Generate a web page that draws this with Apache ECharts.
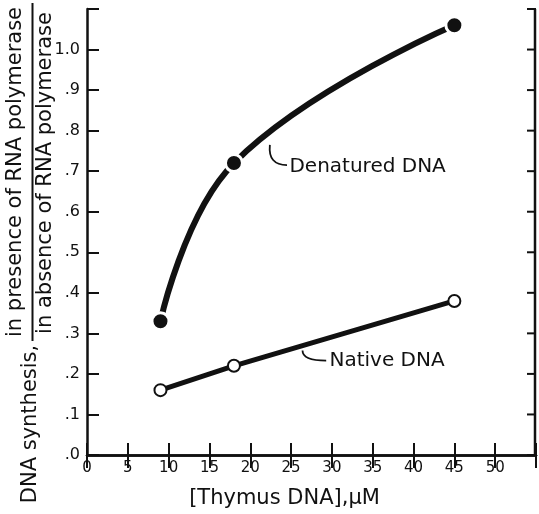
<!DOCTYPE html>
<html>
<head>
<meta charset="utf-8">
<script src="https://cdn.jsdelivr.net/npm/echarts@6/dist/echarts.min.js"></script>
<style>
  html, body { margin: 0; padding: 0; background: #fff; }
  #chart { width: 539px; height: 514px; }
</style>
</head>
<body>
<div id="chart"></div>
<script>
// thymus DNA concentration (uM)
const concentration = [9, 18, 45]
const denatured = [0.33, 0.72, 1.06]
const native = [0.16, 0.22, 0.38]

const xTickLabels = ['0', '5', '10', '15', '20', '25', '30', '35', '40', '45', '50', '']
const yTickLabels = ['.0', '.1', '.2', '.3', '.4', '.5', '.6', '.7', '.8', '.9', '1.0', '']
const yTicks = [0, 0.1, 0.2, 0.3, 0.4, 0.5, 0.6, 0.7, 0.8, 0.9, 1.0, 1.1]

const FONT = '"DejaVu Sans", sans-serif'
const INK = '#111'

const chart = echarts.init(document.getElementById('chart'))

const frameLine = { show: true, lineStyle: { color: INK, width: 2.5 } }

const option = {
  animation: false,
  backgroundColor: '#fff',
  grid: { left: 87, right: 1, top: 9, bottom: 59, containLabel: false },
  xAxis: [
    {
      type: 'value', min: 0, max: 55, interval: 5,
      axisLine: frameLine,
      axisTick: { inside: true, length: 12, lineStyle: { color: INK, width: 2 } },
      splitLine: { show: false },
      axisLabel: {
        color: INK, fontFamily: FONT, fontSize: 15, margin: 6,
        formatter: v => xTickLabels[Math.round(v / 5)]
      },
      name: '[Thymus DNA],\u03bcM',
      nameLocation: 'middle',
      nameGap: 33,
      nameTextStyle: { color: INK, fontFamily: FONT, fontSize: 21, padding: [0, 54, 0, 0] }
    },
    {
      type: 'value', min: 0, max: 55, interval: 5, position: 'top',
      axisLine: frameLine,
      axisTick: { inside: true, length: 13, lineStyle: { color: INK, width: 2 } },
      axisLabel: { show: false }, splitLine: { show: false }
    }
  ],
  yAxis: [
    {
      type: 'value', min: 0, max: 1.1, interval: 0.1,
      axisLine: frameLine,
      axisTick: { inside: true, length: 12, lineStyle: { color: INK, width: 2 } },
      splitLine: { show: false },
      axisLabel: {
        color: INK, fontFamily: FONT, fontSize: 16, margin: 7,
        formatter: v => yTickLabels[Math.round(v * 10)]
      }
    },
    {
      // kept only as a placeholder; the right edge is drawn below
      type: 'value', min: 0, max: 1.1, interval: 0.1, position: 'right',
      axisLine: { show: false },
      axisTick: { show: false },
      axisLabel: { show: false }, splitLine: { show: false }
    }
  ],
  series: [
    {
      name: 'Denatured DNA',
      type: 'line',
      smooth: 0.42,
      data: concentration.map((x, i) => [x, denatured[i]]),
      lineStyle: { color: INK, width: 6 },
      symbol: 'circle',
      symbolSize: 17,
      itemStyle: { color: INK, borderColor: '#fff', borderWidth: 3 },
      z: 3
    },
    {
      name: 'Native DNA',
      type: 'line',
      data: concentration.map((x, i) => [x, native[i]]),
      lineStyle: { color: INK, width: 5 },
      symbol: 'circle',
      symbolSize: 12,
      showAllSymbol: true,
      itemStyle: { color: '#fff', borderColor: INK, borderWidth: 2 },
      z: 3
    }
  ]
}

chart.setOption(option)

// labels with leader lines, anchored in data coordinates
const toPx = p => chart.convertToPixel({ gridIndex: 0 }, p)

function leader(from, to, bend) {
  const a = toPx(from), b = toPx(to)
  const c = [a[0] + bend[0], b[1] + bend[1]]
  return {
    type: 'bezierCurve',
    shape: { x1: a[0], y1: a[1], x2: b[0], y2: b[1], cpx1: c[0], cpy1: c[1] },
    style: { stroke: INK, lineWidth: 1.8, fill: null }
  }
}

function label(text, at) {
  const p = toPx(at)
  return {
    type: 'text', x: p[0], y: p[1],
    style: { text, fill: INK, font: '20px ' + FONT, align: 'left', verticalAlign: 'middle' }
  }
}

// right frame edge with its short inward ticks
const rightTop = toPx([55, 1.1]), rightBottom = toPx([55, 0])
const rightFrame = [{
  type: 'line',
  shape: { x1: rightTop[0] - 1, y1: rightTop[1], x2: rightBottom[0] - 1, y2: rightBottom[1] },
  style: { stroke: INK, lineWidth: 2.5 }
}].concat(yTicks.map(v => {
  const p = toPx([55, v])
  return {
    type: 'line',
    shape: { x1: p[0] - 9, y1: p[1], x2: p[0], y2: p[1] },
    style: { stroke: INK, lineWidth: 2 }
  }
}))

const yTitleFont = '21px ' + FONT

chart.setOption({
  graphic: [
    leader([22.4, 0.765], [24.5, 0.715], [-2, 0]),
    label('Denatured DNA', [24.8, 0.712]),
    leader([26.4, 0.258], [29.3, 0.233], [0, 0]),
    label('Native DNA', [29.7, 0.232]),
    // y axis title: DNA synthesis, (in presence / in absence)
    {
      type: 'text', x: 31, y: 424, rotation: Math.PI / 2,
      style: { text: 'DNA synthesis,', fill: INK, font: yTitleFont, align: 'center', verticalAlign: 'middle' }
    },
    {
      type: 'text', x: 16, y: 172, rotation: Math.PI / 2,
      style: { text: 'in presence of RNA polymerase', fill: INK, font: yTitleFont, align: 'center', verticalAlign: 'middle' }
    },
    {
      type: 'line',
      shape: { x1: 32.5, y1: 3, x2: 32.5, y2: 341 },
      style: { stroke: INK, lineWidth: 2 }
    },
    {
      type: 'text', x: 46, y: 173, rotation: Math.PI / 2,
      style: { text: 'in absence of RNA polymerase', fill: INK, font: yTitleFont, align: 'center', verticalAlign: 'middle' }
    }
  ].concat(rightFrame)
})
</script>
</body>
</html>
